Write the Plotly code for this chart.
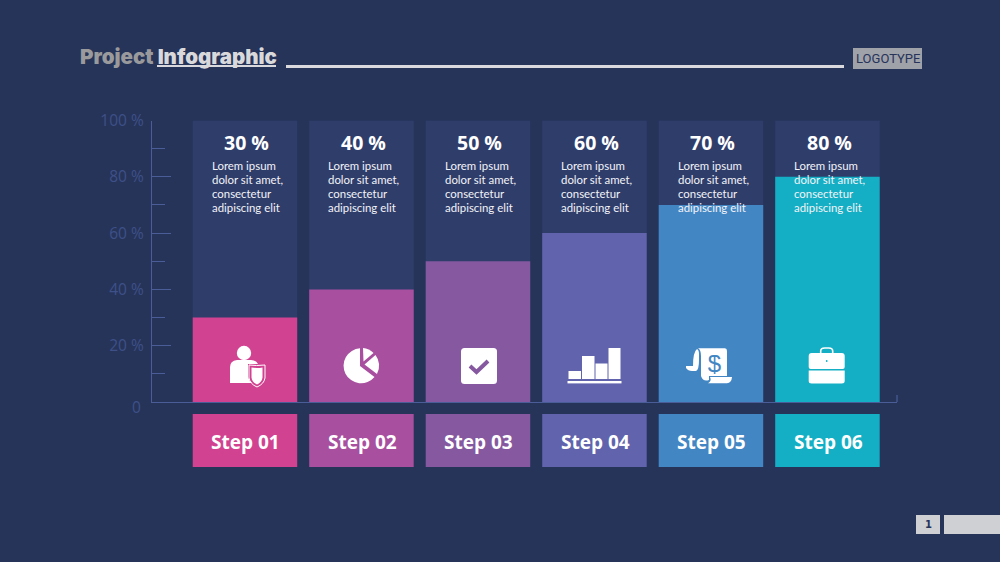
import base64
import plotly.graph_objects as go

categories = ["Step 01", "Step 02", "Step 03", "Step 04", "Step 05", "Step 06"]
values = [30, 40, 50, 60, 70, 80]
full_scale = [100, 100, 100, 100, 100, 100]
step_height = [1, 1, 1, 1, 1, 1]
bar_colors = ["#d14291", "#a84f9f", "#85589f", "#6163ad", "#4286c4", "#14afc4"]
y_ticks = [0, 20, 40, 60, 80, 100]
y_labels = ["", "20 %", "40 %", "60 %", "80 %", "100 %"]
body_lines = ["Lorem ipsum", "dolor sit amet,", "consectetur", "adipiscing elit"]

BG = "#26345a"
PANEL = "#2f3d6b"
AXIS = "#4a5d99"
LABEL = "#3e5088"
W, H = 1000, 562
x_range = [-0.798, 5.597]
FONT = "Open Sans"


def px(x):
    return x / W


def py(y):
    return 1 - y / H


fig = go.Figure()
fig.add_bar(x=categories, y=full_scale, marker=dict(color=PANEL, line_width=0),
            width=0.897, hoverinfo="skip", showlegend=False)
fig.add_bar(x=categories, y=values, marker=dict(color=bar_colors, line_width=0),
            width=0.897, hoverinfo="skip", showlegend=False)
fig.add_bar(x=categories, y=step_height, xaxis="x2", yaxis="y2", width=0.897,
            marker=dict(color=bar_colors, line_width=0),
            hoverinfo="skip", showlegend=False)

annotations = []
for i, (c, v) in enumerate(zip(categories, values)):
    annotations.append(dict(x=c, y=0.5, xref="x2", yref="y2", yshift=-1, xshift=1,
                            text=f"<b>{c}</b>", showarrow=False, xanchor="center", yanchor="middle",
                            font=dict(family=FONT, size=19, color="white")))
    annotations.append(dict(x=c, y=100, xref="x", yref="y", yshift=-21.5, xshift=2,
                            text=f"<b>{v} %</b>", showarrow=False, xanchor="center", yanchor="middle",
                            font=dict(family=FONT, size=19.5, color="white")))
    for k, line in enumerate(body_lines):
        annotations.append(dict(x=c, y=100, xref="x", yref="y", yshift=-44.5 - 14 * k, xshift=-35,
                                text=line, showarrow=False, xanchor="left", yanchor="middle",
                                font=dict(family="Lato", size=11.4, color="#f2f3f7")))
annotations.append(dict(x=px(143), y=0, xref="paper", yref="y", yshift=-5,
                        xanchor="right", yanchor="middle", text="0", showarrow=False,
                        font=dict(family=FONT, size=15.5, color=LABEL)))
annotations += [
    dict(x=px(78), y=py(56), xref="paper", yref="paper", xanchor="left", yanchor="middle", showarrow=False,
         text="<span style='color:#9a9a9c'>Project </span><span style='color:#d9d9dc'>Infographic</span>",
         font=dict(family="Inter", size=20.5, weight=900)),
    dict(x=px(887.5), y=py(58.5), xref="paper", yref="paper", xanchor="center", yanchor="middle", showarrow=False,
         text="LOGOTYPE", font=dict(family="Roboto", size=13, color=BG, weight=400)),
    dict(x=px(928), y=py(524.5), xref="paper", yref="paper", xanchor="center", yanchor="middle", showarrow=False,
         text="<b>1</b>", font=dict(family="DejaVu Sans", size=10, color=BG)),
]


def rect(x0, y0, x1, y1, color):
    return dict(type="rect", xref="paper", yref="paper", x0=px(x0), x1=px(x1), y0=py(y0), y1=py(y1),
                fillcolor=color, line_width=0, layer="below")


shapes = [
    rect(286, 65, 844, 68, "#d9d9de"),
    rect(157, 65, 276, 67, "#d9d9de"),
    rect(853, 48, 922, 69, "#a0a2a9"),
    rect(916, 515, 940, 534, "#cfd0d3"),
    rect(944, 515, 1000, 534, "#cfd0d3"),
    dict(type="line", xref="paper", yref="paper", x0=px(897), x1=px(897), y0=py(395), y1=py(402),
         line=dict(color=AXIS, width=1.2), layer="below"),
]

# Pictograms, each drawn in a 60x60 box centred on its column
icons = {
    0: """<g transform='translate(0,10)'><circle cx='29' cy='13' r='7.2' fill='#fff'/>
<path d='M15 40 V27 Q15 21 22 20 H36 Q41 20 43 24 H33 V37 Q34 41 37 43 H15Z' fill='#fff'/>
<path d='M34 25 Q41 26 50 25 V38 Q49 44 42 47 Q35 44 34 38Z' fill='none' stroke='#fff' stroke-width='1'/>
<path d='M36.5 27.5 Q42 28.5 47.5 27.5 V37.5 Q47 42 42 44.5 Q37 42 36.5 37.5Z' fill='#fff'/></g>""",
    1: """<path d='M28.5 18.3 V36 L43 47 A17.5 17.5 0 1 1 28.5 18.3Z' fill='#fff'/>
<path d='M31.5 18 A17.500 17.500 0 0 1 42 23 L32 31.5Z' fill='#fff'/>
<path d='M44 25 A17.500 17.500 0 0 1 45.500 44 L33 34.500Z' fill='#fff'/>""",
    2: """<g transform='translate(1,6)'><rect x='12' y='12' width='36' height='36' rx='3.5' fill='#fff'/>
<path d='M21 30 L27.5 36 L39 25' fill='none' stroke='#85589f' stroke-width='4'/></g>""",
    3: """<rect x='3' y='51' width='54' height='2.4' fill='#fff'/><rect x='4' y='41' width='12.5' height='8' fill='#fff'/>
<rect x='17.5' y='26' width='12.5' height='23' fill='#fff'/><rect x='31' y='33.5' width='12' height='15.5' fill='#fff'/>
<rect x='44' y='18' width='12' height='31' fill='#fff'/>""",
    4: """<path d='M17 18.3 H44 Q46 18.3 46 21 V46 H28 V50 Q22 52 20 46 V26 Q20 20 17 18.300Z' fill='#fff'/>
<path d='M16 19 Q12 22 12 36 H5 V38 Q7 41 11 41 H15 Q18 40 18 30 V24 Q18 20 16 19Z' fill='#fff'/>
<path d='M29 47 H51 Q50.500 53 46 53.300 H27 Q31 51 29 47Z' fill='#fff'/>
<text x='33.5' y='42' font-family='Liberation Sans' font-size='24' text-anchor='middle' fill='#4286c4'>$</text>""",
    5: """<g transform='translate(-0.3,10)'><path d='M24 14 V11 Q24 8 28 8 H32 Q36 8 36 11 V14' fill='none' stroke='#fff' stroke-width='1.6'/>
<path d='M12 16 Q12 13 15 13 H45 Q48 13 48 16 V27 Q48 29 46 29 H14 Q12 29 12 27Z' fill='#fff'/>
<path d='M12 30.5 H48 V41 Q48 43.500 45 43.500 H15 Q12 43.500 12 41Z' fill='#fff'/>
<circle cx='30' cy='21' r='0.9' fill='#14afc4'/></g>""",
}
centers = [245, 361.5, 478, 594.5, 711, 827]
images = []
for i, body in icons.items():
    svg = f"<svg xmlns='http://www.w3.org/2000/svg' width='60' height='60' viewBox='0 0 60 60'>{body}</svg>"
    uri = "data:image/svg+xml;base64," + base64.b64encode(svg.encode()).decode()
    images.append(dict(source=uri, xref="paper", yref="paper", x=px(centers[i] - 30), y=py(330),
                       sizex=60 / W, sizey=60 / H, xanchor="left", yanchor="top", sizing="stretch", layer="above"))

x_domain = [152 / W, 897 / W]
fig.update_layout(
    width=W, height=H, autosize=False,
    margin=dict(l=0, r=0, t=0, b=0),
    paper_bgcolor=BG, plot_bgcolor=BG,
    barmode="overlay", showlegend=False,
    annotations=annotations, shapes=shapes, images=images,
    xaxis=dict(domain=x_domain, range=x_range, type="category", categoryorder="array", categoryarray=categories,
               automargin=False,
               showticklabels=False, ticks="", showgrid=False, zeroline=False, showline=True,
               linecolor=AXIS, linewidth=1.2, anchor="y", layer="below traces"),
    yaxis=dict(domain=[1 - 402 / H, 1 - 120.5 / H], range=[0, 100], tickmode="array", tickvals=y_ticks, ticktext=y_labels,
               automargin=False,
               ticks="inside", ticklen=19, tickwidth=1.2, tickcolor=AXIS, showgrid=False, zeroline=False,
               showline=True, linecolor=AXIS, linewidth=1.2, anchor="x", layer="below traces",
               ticklabelstandoff=4,
               tickfont=dict(family=FONT, size=15.5, color=LABEL),
               minor=dict(tickmode="array", tickvals=[10, 30, 50, 70, 90], ticks="inside", ticklen=13,
                          tickwidth=1.2, tickcolor=AXIS, showgrid=False)),
    xaxis2=dict(domain=x_domain, range=x_range, type="category", categoryorder="array", categoryarray=categories,
                automargin=False, visible=False, anchor="y2"),
    yaxis2=dict(domain=[1 - 467 / H, 1 - 414 / H], range=[0, 1], automargin=False, visible=False, anchor="x2"),
)
fig.write_html("out.html", config=dict(displayModeBar=False),
               post_script="document.body.style.margin='0';document.body.style.overflow='hidden';document.body.style.background='#26345a';")
